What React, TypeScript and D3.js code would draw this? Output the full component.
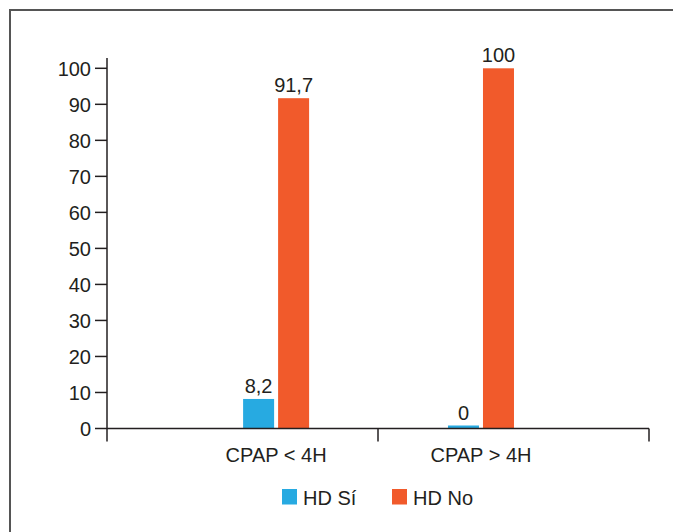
import React from "react";
import * as d3 from "d3";

const categories = ["CPAP < 4H", "CPAP > 4H"];
const seriesNames = ["HD Sí", "HD No"];
const hdSi = [8.2, 0];
const hdNo = [91.7, 100];
const valueLabels = [["8,2", "91,7"], ["0", "100"]];
const yTicks = [0, 10, 20, 30, 40, 50, 60, 70, 80, 90, 100];

const colors = ["#27aae1", "#f15a2b"];
const groupFrac = [0.624, 0.38];
const font = "'Liberation Sans', Arial, Helvetica, sans-serif";
const ink = "#231f20";

export default function App() {
  const W = 673, H = 532;
  const x0 = d3.scaleBand<string>().domain(categories).range([107, 649]).padding(0);
  const xs = d3.scaleBand<string>().domain(seriesNames).range([-33, 33]).paddingInner(0.114).paddingOuter(0);
  const y = d3.scaleLinear().domain([0, 100]).range([428.5, 68.3]);
  const series = [hdSi, hdNo];
  const bw = xs.bandwidth();
  const tickBoundaries = [...categories.map((c) => x0(c)!), x0.range()[1]];

  return (
    <svg width={W} height={H} style={{ position: "absolute", left: 0, top: 0, background: "#fff" }}>
      {/* frame */}
      <path d={`M10,${H + 5} L10,10 L${W + 5},10`} fill="none" stroke="#555" strokeWidth={2} />

      {/* y axis */}
      <line x1={107} x2={107} y1={58} y2={441.5} stroke={ink} strokeWidth={1.5} />
      {yTicks.map((t) => (
        <g key={t}>
          <line x1={95} x2={107} y1={y(t)} y2={y(t)} stroke={ink} strokeWidth={1.5} />
          <text x={91} y={y(t)} dy="0.36em" textAnchor="end" fontFamily={font} fontSize={20} fill={ink}>
            {t}
          </text>
        </g>
      ))}

      {/* bars */}
      {categories.map((c, ci) => {
        const cx = x0(c)! + x0.bandwidth() * groupFrac[ci];
        return (
          <g key={c}>
            {seriesNames.map((s, si) => {
              const v = series[si][ci];
              const top = Math.min(y(v), y(0) - 3);
              const bx = cx + xs(s)!;
              return (
                <g key={s}>
                  <rect x={bx} y={top} width={bw} height={y(0) - top} fill={colors[si]} />
                  <text x={bx + bw / 2} y={top - 6} textAnchor="middle" fontFamily={font} fontSize={20} fill={ink}>
                    {valueLabels[ci][si]}
                  </text>
                </g>
              );
            })}
            <text x={cx} y={461.5} textAnchor="middle" fontFamily={font} fontSize={20} fill={ink}>
              {c}
            </text>
          </g>
        );
      })}

      {/* x axis */}
      <line x1={107} x2={649} y1={y(0)} y2={y(0)} stroke={ink} strokeWidth={1.5} />
      {tickBoundaries.slice(1).map((tx, i) => (
        <line key={i} x1={tx} x2={tx} y1={y(0)} y2={441.5} stroke={ink} strokeWidth={1.5} />
      ))}

      {/* legend */}
      {seriesNames.map((s, i) => {
        const lx = [282, 392][i];
        return (
          <g key={s}>
            <rect x={lx} y={489} width={15} height={15.5} fill={colors[i]} />
            <text x={lx + 21} y={504.5} fontFamily={font} fontSize={20} fill={ink}>
              {s}
            </text>
          </g>
        );
      })}
    </svg>
  );
}
